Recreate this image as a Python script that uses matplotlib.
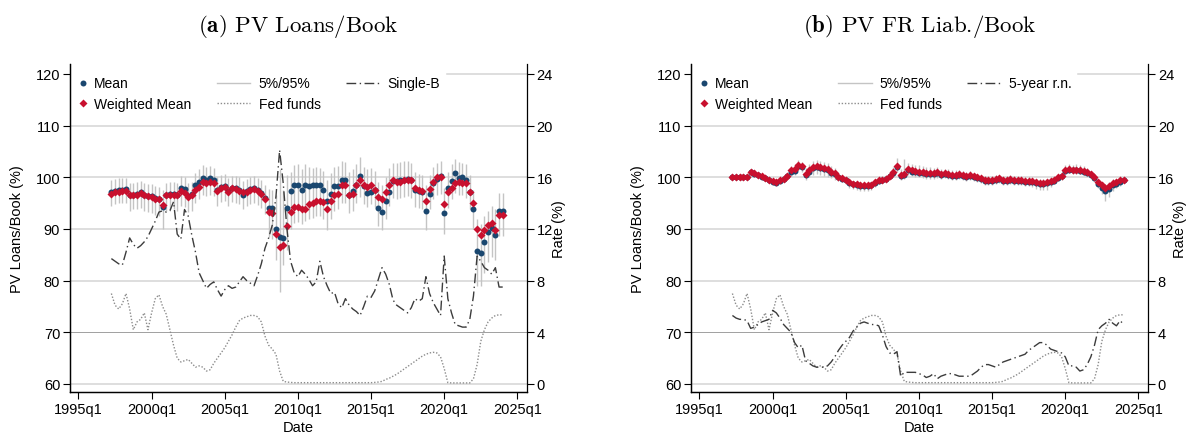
import numpy as np
import matplotlib.pyplot as plt
from matplotlib.lines import Line2D

plt.rcParams['font.family'] = ['Liberation Sans', 'DejaVu Sans']
plt.rcParams['mathtext.fontset'] = 'cm'

# quarterly observations, 1997q2 .. 2024q1
dates = np.arange(1997.25, 2024.01, 0.25)

# (a) PV loans / book
loans_mean = [
    97.2, 97.4, 97.6, 97.6, 97.7, 96.5, 96.6, 96.7, 97.1, 96.6,
    96.4, 96.3, 95.9, 95.8, 94.2, 96.6, 96.7, 96.7, 96.6, 97.9,
    97.7, 96.3, 96.7, 98.4, 99.0, 99.9, 99.5, 99.8, 99.5, 97.6,
    98.2, 98.3, 97.4, 97.9, 97.9, 97.6, 96.5, 97.4, 97.7, 97.9,
    97.6, 97.0, 95.9, 94.0, 94.0, 90.0, 88.4, 88.2, 94.0, 97.4,
    98.5, 98.5, 97.6, 98.4, 98.3, 98.4, 98.4, 98.4, 97.6, 95.3,
    96.8, 98.3, 98.3, 99.5, 99.5, 96.6, 97.4, 98.5, 100.2, 98.3,
    97.0, 97.2, 97.6, 94.0, 93.2, 95.3, 97.2, 99.2, 99.2, 99.4,
    99.5, 99.7, 99.4, 97.6, 97.4, 97.2, 93.4, 96.8, 98.9, 99.7,
    100.2, 93.1, 97.9, 99.2, 100.8, 99.8, 100.0, 99.5, 97.2, 93.9,
    85.8, 85.4, 87.4, 89.4, 90.1, 88.8, 93.4, 93.4]
loans_wmean = [
    96.8, 97.1, 97.2, 97.3, 97.3, 96.5, 96.5, 96.6, 97.0, 96.5,
    96.3, 96.1, 95.8, 95.7, 94.6, 96.5, 96.6, 96.6, 96.5, 97.4,
    96.9, 96.1, 96.5, 97.6, 98.1, 99.0, 98.9, 99.0, 98.8, 97.4,
    97.9, 98.1, 97.1, 97.9, 97.7, 97.4, 97.1, 97.2, 97.6, 97.7,
    97.4, 96.8, 95.8, 93.2, 93.1, 89.0, 86.5, 86.8, 90.6, 93.2,
    94.2, 94.2, 93.9, 93.9, 94.8, 95.0, 95.3, 95.3, 95.2, 93.9,
    95.3, 96.5, 96.8, 98.4, 98.5, 96.5, 96.8, 98.5, 99.5, 98.4,
    98.1, 98.5, 97.6, 96.1, 95.8, 97.1, 98.4, 99.4, 99.0, 99.0,
    99.5, 99.5, 99.4, 97.9, 97.6, 97.4, 95.3, 97.7, 99.0, 100.0,
    100.0, 94.8, 97.1, 97.9, 98.9, 99.0, 98.9, 98.9, 97.2, 95.0,
    90.0, 88.8, 89.7, 90.8, 91.2, 89.7, 92.7, 92.7]
loans_p95 = [
    99.4, 99.6, 99.8, 99.8, 99.8, 98.8, 98.9, 99.0, 99.3, 98.9,
    98.7, 98.6, 98.3, 98.2, 97.5, 98.8, 99.0, 99.0, 98.9, 100.2,
    100.0, 98.8, 99.0, 100.8, 101.5, 102.3, 102.0, 102.1, 101.8, 100.0,
    100.5, 100.6, 99.8, 100.3, 100.2, 100.0, 99.2, 99.7, 100.0, 100.2,
    99.9, 99.4, 98.4, 97.8, 97.6, 96.5, 101.6, 97.5, 100.5, 101.0,
    102.3, 102.5, 101.6, 102.5, 102.0, 101.8, 102.0, 101.8, 101.2, 99.5,
    100.8, 102.0, 102.2, 103.2, 103.0, 101.0, 101.5, 102.5, 104.0, 102.0,
    101.5, 101.8, 101.2, 99.0, 98.5, 100.0, 101.8, 102.8, 102.8, 103.0,
    103.2, 103.2, 102.8, 101.0, 100.7, 100.5, 98.5, 100.5, 102.0, 102.8,
    103.2, 98.0, 101.0, 102.5, 103.5, 103.0, 102.8, 102.5, 100.5, 97.5,
    92.0, 91.0, 92.5, 93.5, 94.5, 93.8, 97.0, 97.0]
loans_p5 = [
    94.5, 94.8, 95.0, 95.0, 95.0, 93.5, 93.8, 93.8, 94.0, 93.5,
    93.2, 93.0, 92.7, 92.5, 90.0, 93.5, 93.8, 93.8, 93.5, 94.5,
    94.3, 93.2, 93.5, 95.0, 95.8, 96.5, 96.4, 96.5, 96.3, 94.5,
    95.2, 95.4, 94.5, 95.2, 95.0, 94.8, 93.8, 94.5, 94.8, 95.0,
    94.6, 94.0, 92.8, 88.5, 88.0, 84.0, 77.7, 83.0, 86.0, 90.0,
    91.2, 91.3, 91.0, 91.5, 92.0, 92.2, 92.5, 92.5, 92.0, 89.8,
    92.0, 93.5, 93.8, 95.0, 95.0, 93.0, 93.5, 95.0, 96.2, 94.8,
    94.2, 94.8, 94.2, 90.5, 89.8, 92.0, 94.5, 96.0, 95.8, 96.0,
    96.2, 96.3, 96.0, 94.2, 94.0, 93.8, 89.8, 93.8, 95.8, 96.5,
    96.8, 89.0, 94.0, 95.8, 97.0, 96.5, 96.5, 96.0, 93.8, 90.0,
    79.0, 79.0, 81.5, 83.5, 84.5, 84.0, 88.7, 88.7]

# (b) PV fixed-rate liabilities / book
liab_mean = [
    100.1, 100.1, 100.1, 100.1, 100.1, 101.0, 100.7, 100.4, 100.1, 99.8,
    99.4, 99.1, 98.9, 99.3, 99.6, 100.2, 101.0, 101.2, 102.2, 101.9,
    100.4, 101.1, 101.7, 101.9, 101.7, 101.5, 101.3, 100.9, 100.6, 100.0,
    99.7, 99.4, 98.9, 98.6, 98.5, 98.3, 98.3, 98.3, 98.4, 98.9,
    99.3, 99.4, 99.6, 100.2, 100.9, 101.9, 100.3, 100.4, 101.3, 101.1,
    101.0, 100.9, 100.8, 100.6, 100.6, 100.6, 100.8, 100.4, 100.6, 100.4,
    100.3, 100.3, 100.4, 100.3, 100.1, 100.3, 100.0, 99.8, 99.6, 99.3,
    99.2, 99.3, 99.5, 99.6, 99.2, 99.3, 99.5, 99.3, 99.2, 99.2,
    99.1, 99.1, 99.0, 98.8, 98.7, 98.7, 98.8, 99.0, 99.3, 99.8,
    100.2, 101.2, 101.4, 101.3, 101.3, 101.2, 101.1, 100.9, 100.5, 99.8,
    98.6, 97.9, 97.3, 97.8, 98.5, 98.7, 99.1, 99.4]
liab_wmean = [
    100.1, 100.1, 100.1, 100.1, 100.1, 101.1, 100.8, 100.5, 100.2, 99.9,
    99.5, 99.2, 99.0, 99.4, 99.7, 100.3, 101.3, 101.5, 102.4, 102.1,
    100.6, 101.3, 101.9, 102.1, 101.9, 101.7, 101.5, 101.1, 100.8, 100.1,
    99.8, 99.5, 99.0, 98.7, 98.6, 98.4, 98.4, 98.4, 98.5, 99.0,
    99.4, 99.5, 99.7, 100.3, 101.1, 102.1, 100.5, 100.6, 101.5, 101.3,
    101.2, 101.1, 101.0, 100.8, 100.8, 100.8, 101.0, 100.6, 100.8, 100.6,
    100.5, 100.5, 100.6, 100.5, 100.3, 100.5, 100.2, 100.0, 99.8, 99.5,
    99.4, 99.5, 99.7, 99.8, 99.4, 99.5, 99.7, 99.5, 99.4, 99.4,
    99.3, 99.3, 99.2, 99.0, 98.9, 98.9, 99.0, 99.2, 99.5, 100.0,
    100.3, 101.3, 101.5, 101.4, 101.4, 101.3, 101.2, 101.0, 100.6, 100.0,
    99.0, 98.4, 97.9, 98.3, 98.9, 99.0, 99.4, 99.5]
liab_p95 = [
    100.5, 100.5, 100.5, 100.5, 100.6, 101.6, 101.3, 101.0, 100.7, 100.4,
    100.0, 99.7, 99.5, 99.9, 100.2, 100.8, 102.2, 102.5, 103.3, 103.0,
    101.8, 102.6, 103.2, 103.4, 103.2, 103.0, 102.8, 102.2, 101.8, 100.8,
    100.4, 100.1, 99.6, 99.3, 99.2, 99.0, 99.0, 99.0, 99.1, 99.6,
    100.0, 100.2, 100.4, 101.1, 102.0, 103.8, 101.6, 103.5, 102.8, 102.6,
    102.4, 102.3, 102.2, 102.0, 101.9, 101.8, 101.9, 101.5, 101.6, 101.5,
    101.4, 101.3, 101.4, 101.2, 101.0, 101.2, 100.9, 100.7, 100.5, 100.2,
    100.1, 100.2, 100.4, 100.5, 100.1, 100.2, 100.4, 100.2, 100.1, 100.1,
    100.0, 100.0, 99.9, 99.7, 99.6, 99.6, 99.7, 99.9, 100.2, 100.7,
    101.0, 102.3, 102.5, 102.4, 102.6, 102.3, 102.2, 101.8, 101.2, 100.6,
    99.6, 99.0, 98.6, 99.0, 99.6, 99.7, 100.0, 100.1]
liab_p5 = [
    99.7, 99.7, 99.7, 99.7, 99.7, 100.5, 100.2, 99.9, 99.6, 99.3,
    98.9, 98.6, 98.4, 98.8, 99.1, 99.7, 100.2, 100.5, 101.3, 101.0,
    99.4, 100.0, 100.5, 100.6, 100.4, 100.3, 100.1, 99.8, 99.5, 99.3,
    99.0, 98.6, 98.0, 97.7, 97.5, 97.3, 97.3, 97.4, 97.6, 98.2,
    98.7, 98.8, 99.0, 99.6, 100.2, 101.0, 99.5, 99.6, 100.5, 100.3,
    100.1, 100.0, 99.9, 99.7, 99.7, 99.7, 99.9, 99.6, 99.8, 99.6,
    99.5, 99.5, 99.6, 99.5, 99.3, 99.5, 99.2, 99.0, 98.8, 98.5,
    98.4, 98.5, 98.7, 98.8, 98.4, 98.5, 98.7, 98.5, 98.4, 98.4,
    98.3, 98.3, 98.1, 97.7, 97.5, 97.5, 97.6, 98.2, 98.6, 99.2,
    99.5, 100.6, 100.8, 100.7, 100.7, 100.6, 100.5, 100.3, 99.9, 99.2,
    98.0, 96.8, 95.4, 96.2, 97.4, 97.9, 98.3, 98.8]

# rates (%)
fed_funds = [
    7.0, 6.1, 5.8, 6.2, 7.0, 5.8, 4.2, 4.8, 5.0, 5.5,
    4.2, 5.5, 6.6, 6.9, 6.0, 5.4, 4.2, 3.0, 2.0, 1.7,
    1.8, 1.9, 1.6, 1.3, 1.4, 1.3, 1.0, 1.1, 1.6, 2.0,
    2.4, 2.8, 3.3, 3.8, 4.4, 4.9, 5.1, 5.2, 5.3, 5.3,
    5.2, 4.8, 3.7, 3.0, 2.7, 2.3, 1.0, 0.2, 0.15, 0.12,
    0.1, 0.1, 0.1, 0.1, 0.1, 0.1, 0.1, 0.1, 0.1, 0.1,
    0.1, 0.1, 0.1, 0.1, 0.1, 0.1, 0.1, 0.1, 0.1, 0.1,
    0.1, 0.1, 0.12, 0.15, 0.2, 0.35, 0.45, 0.6, 0.75, 0.95,
    1.15, 1.35, 1.55, 1.75, 1.95, 2.15, 2.3, 2.4, 2.45, 2.4,
    2.1, 1.2, 0.1, 0.08, 0.08, 0.08, 0.08, 0.08, 0.08, 0.4,
    1.5, 3.3, 4.2, 4.8, 5.1, 5.3, 5.35, 5.35]
single_b = [
    9.7, 9.5, 9.3, 9.2, 10.2, 11.3, 10.8, 10.5, 10.7, 11.0,
    11.4, 12.0, 12.6, 13.3, 13.4, 13.3, 13.4, 14.1, 11.6, 11.2,
    13.5, 13.0, 11.5, 10.2, 8.6, 8.0, 7.4, 7.7, 7.9, 7.3,
    6.8, 7.3, 7.6, 7.4, 7.5, 7.9, 8.3, 8.0, 7.8, 7.6,
    8.4, 9.3, 10.5, 11.3, 12.3, 14.5, 18.1, 15.5, 12.0, 9.5,
    8.6, 8.3, 8.8, 8.5, 8.1, 7.6, 7.9, 9.5, 8.3, 7.6,
    7.0, 7.1, 6.2, 5.9, 6.6, 6.1, 5.8, 5.6, 5.3, 6.0,
    6.8, 6.7, 7.2, 8.1, 9.0, 8.5, 7.7, 6.5, 6.1, 5.9,
    5.7, 5.5, 5.9, 6.6, 6.4, 6.6, 8.3, 7.0, 6.3, 5.8,
    5.3, 9.9, 6.6, 5.5, 4.6, 4.5, 4.4, 4.4, 5.0, 6.8,
    9.9, 9.5, 9.0, 8.8, 8.5, 9.0, 7.5, 7.5]
five_year_rn = [
    5.3, 5.1, 5.0, 5.0, 4.9, 4.3, 4.4, 4.6, 4.8, 4.9,
    5.0, 5.7, 5.5, 5.1, 4.6, 4.3, 4.0, 3.2, 2.8, 3.0,
    1.8, 1.6, 1.4, 1.3, 1.3, 1.3, 1.4, 1.7, 2.1, 2.6,
    3.0, 3.3, 3.6, 4.1, 4.4, 4.7, 4.8, 4.7, 4.6, 4.6,
    4.5, 3.8, 2.9, 2.4, 2.3, 2.5, 0.6, 0.9, 0.9, 0.9,
    0.9, 0.8, 0.7, 0.5, 0.6, 0.8, 0.4, 0.6, 0.7, 0.8,
    0.8, 0.7, 0.6, 0.6, 0.6, 0.6, 0.8, 1.0, 1.3, 1.5,
    1.5, 1.4, 1.3, 1.5, 1.7, 1.8, 1.9, 2.0, 2.1, 2.2,
    2.3, 2.6, 2.8, 3.0, 3.2, 3.2, 3.0, 2.7, 2.6, 2.5,
    2.4, 2.1, 1.4, 1.4, 1.3, 1.0, 1.1, 1.5, 2.1, 3.0,
    4.2, 4.5, 4.7, 5.0, 4.7, 4.5, 4.9, 4.6]

year_ticks = [1995, 2000, 2005, 2010, 2015, 2020, 2025]
year_labels = ['1995q1', '2000q1', '2005q1', '2010q1', '2015q1', '2020q1', '2025q1']

navy = '#1a476f'
red = '#c8102e'
bar_gray = '#c4c4c4'
grid_gray = '#d4d4d4'
ylo, yhi = 58.45, 121.9


def panel(rect, title, mean, wmean, p5, p95, rate, rate_name, cut):
    ax = fig.add_axes(rect)
    ax2 = ax.twinx()

    for lev in range(60, 121, 10):
        if lev == 70:
            ax.axhline(lev, color='#a0a0a0', lw=0.7, zorder=0)
        elif lev == 120:
            ax.axhline(lev, xmin=cut, color=grid_gray, lw=1.1, zorder=0)
        else:
            ax.axhline(lev, color=grid_gray, lw=1.1, zorder=0)

    ax.vlines(dates, p5, p95, color=bar_gray, lw=1.0, zorder=1)
    ax.plot(dates, mean, 'o', color=navy, ms=4.3, mec='none', zorder=2)
    ax.plot(dates, wmean, 'D', color=red, ms=4.0, mec='none', zorder=3)

    ax2.plot(dates, fed_funds, color='#8c8c8c', lw=1.0, dashes=(1, 1.3))
    ax2.plot(dates, rate, color='#3c3c3c', lw=1.0, dashes=(7, 2.5, 1, 2.5))

    ax.set_xlim(1994.42, 2025.66)
    ax.set_ylim(ylo, yhi)
    ax2.set_ylim((ylo - 60) * 0.4, (yhi - 60) * 0.4)
    ax.set_xticks(year_ticks)
    ax.set_xticklabels(year_labels)
    ax.set_yticks(range(60, 121, 10))
    ax2.set_yticks(range(0, 25, 4))

    for a in (ax, ax2):
        a.spines['top'].set_visible(False)
        for s in a.spines.values():
            s.set_linewidth(0.9)
        a.tick_params(direction='out', length=5, width=0.8, labelsize=10.5, pad=2)
    ax.spines['right'].set_visible(False)

    ax.set_ylabel('PV Loans/Book (%)', fontsize=10.5)
    ax.yaxis.set_label_coords(-0.100, 0.5)
    ax2.set_ylabel('Rate (%)', fontsize=10.5, rotation=90)
    ax2.yaxis.set_label_coords(1.054, 0.5)
    ax.set_xlabel('Date', fontsize=10.5)
    ax.xaxis.set_label_coords(0.5, -0.085)

    h1 = [Line2D([], [], ls='none', marker='o', color=navy, ms=4.3, mec='none'),
          Line2D([], [], ls='none', marker='D', color=red, ms=4.0, mec='none')]
    leg1 = ax2.legend(h1, ['Mean', 'Weighted Mean'], loc='upper left',
                      bbox_to_anchor=(0.0164, 0.962), frameon=False, fontsize=10,
                      handlelength=0.8, handletextpad=0.4, labelspacing=0.45,
                      borderpad=0, borderaxespad=0)
    ax2.add_artist(leg1)
    h2 = [Line2D([], [], color=bar_gray, lw=1.0),
          Line2D([], [], color='#8c8c8c', lw=1.0, dashes=(1, 1.3)),
          Line2D([], [], color='#3c3c3c', lw=1.0, dashes=(7, 2.5, 1, 2.5))]
    ax2.legend(h2, ['5%/95%', 'Fed funds', rate_name], loc='upper left', ncol=2,
               bbox_to_anchor=(0.322, 0.962), frameon=False, fontsize=10,
               handlelength=2.4, handletextpad=0.6, labelspacing=0.45,
               columnspacing=1.8, borderpad=0, borderaxespad=0)

    x0, w = rect[0], rect[2]
    fig.text(x0 + w / 2, 0.938, title, ha='center', va='center',
             fontsize=16.5, family='cmr10')


fig = plt.figure(figsize=(11.98, 4.35), dpi=100)
panel([0.0584, 0.0966, 0.3815, 0.754], r'$\mathbf{(a)}$ PV Loans/Book',
      loans_mean, loans_wmean, loans_p5, loans_p95, single_b, 'Single-B', 0.825)
panel([0.5768, 0.0966, 0.3815, 0.754], r'$\mathbf{(b)}$ PV FR Liab./Book',
      liab_mean, liab_wmean, liab_p5, liab_p95, five_year_rn, '5-year r.n.', 0.847)

fig.savefig('out.png', dpi=100)
